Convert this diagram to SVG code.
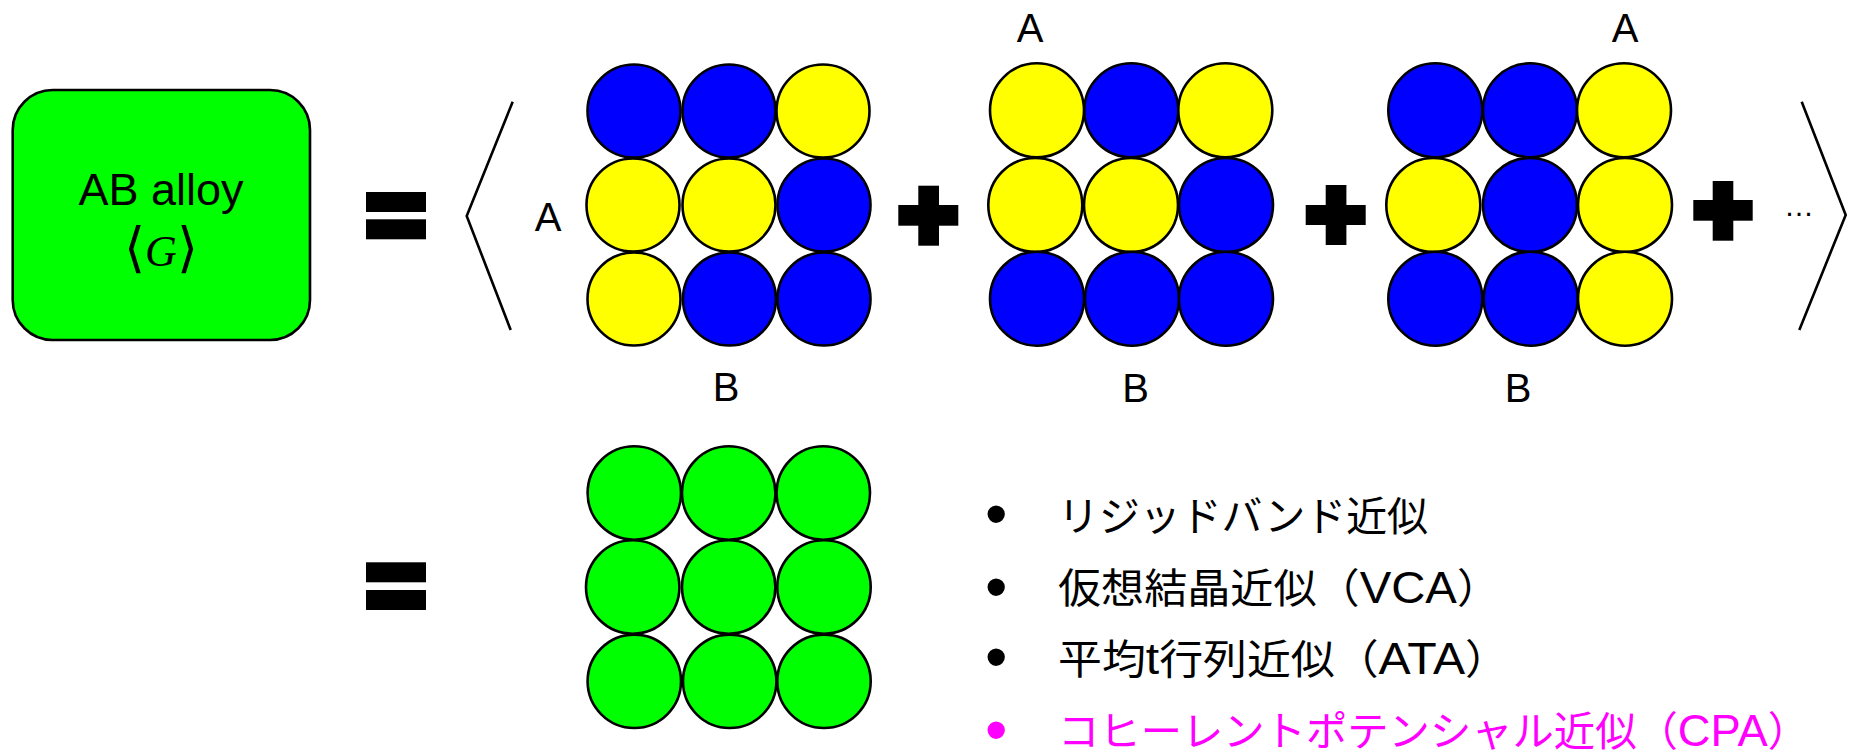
<svg xmlns="http://www.w3.org/2000/svg" width="1849" height="752" viewBox="0 0 1849 752">
<style>
.b{fill:#0000FF;stroke:#000;stroke-width:2.6}
.y{fill:#FFFF00;stroke:#000;stroke-width:2.6}
.g{fill:#00FF00;stroke:#000;stroke-width:2.6}
.bar{fill:#000}
.lbl{font-family:"Liberation Sans",Arial,sans-serif;font-size:40px;fill:#000;text-anchor:middle}
.brk{fill:none;stroke:#000;stroke-width:2.6}
.li{font-family:"Noto Sans CJK JP","Liberation Sans",sans-serif;font-size:41px;fill:#000}
.lat{font-family:"Liberation Sans",Arial,sans-serif;font-size:45px}
.bul{font-family:"Liberation Sans",Arial,sans-serif;font-size:64px;fill:#000}
.pk{fill:#FF00FF}
</style>
<rect width="1849" height="752" fill="#fff"/>
<g id="alloy">
<rect x="12.7" y="90" width="297.3" height="250" rx="40" ry="40" fill="#00FF00" stroke="#000" stroke-width="2.6"/>
<text x="161" y="205" font-family="Liberation Sans, Arial, sans-serif" font-size="45" text-anchor="middle">AB alloy</text>
<text x="161" y="266" font-family="DejaVu Sans, sans-serif" font-size="54" text-anchor="middle">⟨<tspan font-family="Liberation Serif, serif" font-style="italic" font-size="44">G</tspan>⟩</text>
</g>
<g id="eq1"><rect class="bar" x="366" y="192" width="60" height="20"/><rect class="bar" x="366" y="219.3" width="60" height="20"/></g>
<g id="eq2"><rect class="bar" x="366" y="562.3" width="60" height="20"/><rect class="bar" x="366" y="590" width="60" height="20"/></g>
<g id="brackets">
<polyline class="brk" points="512.7,101.7 466.7,216 510.7,330"/>
<polyline class="brk" points="1801.7,101.7 1845.7,215 1799.3,330"/>
</g>
<g id="config1">
<circle class="b" cx="634" cy="111" r="46.5"/><circle class="b" cx="729" cy="111" r="46.5"/><circle class="y" cx="823" cy="111" r="46.5"/>
<circle class="y" cx="633" cy="205" r="46.5"/><circle class="y" cx="729" cy="205" r="46.5"/><circle class="b" cx="824" cy="205" r="46.5"/>
<circle class="y" cx="634" cy="299" r="46.5"/><circle class="b" cx="729.5" cy="299" r="46.5"/><circle class="b" cx="824" cy="299" r="46.5"/>
<text class="lbl" x="548" y="231">A</text>
<text class="lbl" x="726" y="401">B</text>
</g>
<g id="plus1"><rect class="bar" x="898.3" y="205" width="60" height="20.7"/><rect class="bar" x="918.3" y="185.7" width="20.7" height="60"/></g>
<g id="config2">
<circle class="y" cx="1037" cy="110.3" r="47"/><circle class="b" cx="1131.3" cy="110.3" r="47"/><circle class="y" cx="1225.3" cy="110.3" r="47"/>
<circle class="y" cx="1035.3" cy="205" r="47"/><circle class="y" cx="1131" cy="205" r="47"/><circle class="b" cx="1226" cy="205" r="47"/>
<circle class="b" cx="1037" cy="298.7" r="47"/><circle class="b" cx="1132" cy="298.7" r="47"/><circle class="b" cx="1226" cy="298.7" r="47"/>
<text class="lbl" x="1030" y="42">A</text>
<text class="lbl" x="1135.7" y="402">B</text>
</g>
<g id="plus2"><rect class="bar" x="1305.7" y="205" width="60" height="20"/><rect class="bar" x="1325.7" y="185" width="20.7" height="60"/></g>
<g id="config3">
<circle class="b" cx="1435.3" cy="110.3" r="47"/><circle class="b" cx="1530" cy="110.3" r="47"/><circle class="y" cx="1624" cy="110.3" r="47"/>
<circle class="y" cx="1433.3" cy="205" r="47"/><circle class="b" cx="1530" cy="205" r="47"/><circle class="y" cx="1625" cy="205" r="47"/>
<circle class="b" cx="1435.3" cy="298.7" r="47"/><circle class="b" cx="1530.7" cy="298.7" r="47"/><circle class="y" cx="1625" cy="298.7" r="47"/>
<text class="lbl" x="1625" y="42">A</text>
<text class="lbl" x="1518" y="402">B</text>
</g>
<g id="plus3"><rect class="bar" x="1693.3" y="200" width="59.4" height="20.7"/><rect class="bar" x="1712.7" y="181" width="20.6" height="59.7"/></g>
<g id="ellipsis"><text x="1784" y="216" font-family="Liberation Sans, Arial, sans-serif" font-size="30">…</text></g>
<g id="effective">
<circle class="g" cx="634.3" cy="493" r="46.7"/><circle class="g" cx="728.7" cy="493" r="46.7"/><circle class="g" cx="823.3" cy="493" r="46.7"/>
<circle class="g" cx="632.7" cy="587" r="46.7"/><circle class="g" cx="728.7" cy="587" r="46.7"/><circle class="g" cx="824" cy="587" r="46.7"/>
<circle class="g" cx="634.3" cy="681.3" r="46.7"/><circle class="g" cx="729.7" cy="681.3" r="46.7"/><circle class="g" cx="824" cy="681.3" r="46.7"/>
</g>
<g id="list">
<text class="bul" x="985" y="536">•</text><text class="li" x="1058" y="531" textLength="370" lengthAdjust="spacingAndGlyphs">リジッドバンド近似</text>
<text class="bul" x="985" y="609">•</text><text class="li" x="1058" y="603" textLength="442" lengthAdjust="spacingAndGlyphs">仮想結晶近似（<tspan class="lat">VCA</tspan>）</text>
<text class="bul" x="985" y="679">•</text><text class="li" x="1058" y="674" textLength="451" lengthAdjust="spacingAndGlyphs">平均<tspan class="lat">t</tspan>行列近似（<tspan class="lat">ATA</tspan>）</text>
<text class="bul pk" x="985" y="752">•</text><text class="li pk" x="1058" y="746" textLength="751" lengthAdjust="spacingAndGlyphs">コヒーレントポテンシャル近似（<tspan class="lat">CPA</tspan>）</text>
</g>
</svg>
